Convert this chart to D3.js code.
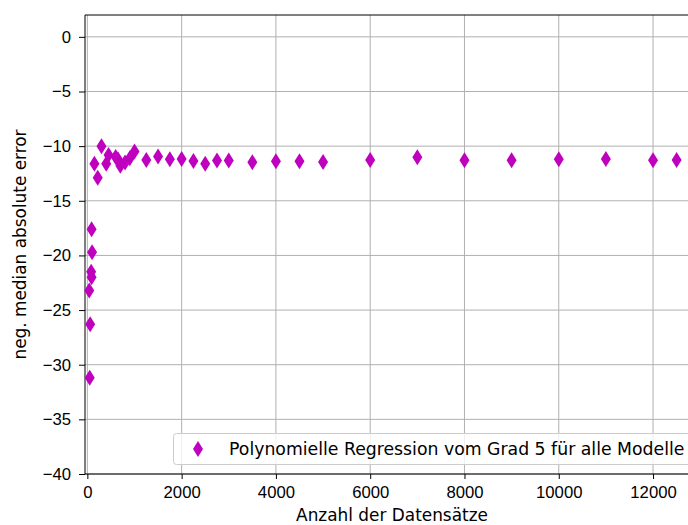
<!DOCTYPE html>
<html>
<head>
<meta charset="utf-8">
<script src="https://cdn.jsdelivr.net/npm/d3@7"></script>
<style>
  body { margin: 0; background: #fff; }
  svg { display: block; font-family: "DejaVu Sans", sans-serif; }
  .tick text { font-size: 16.7px; fill: #000; }
  .tick line { stroke: #000; }
  .domain { display: none; }
</style>
</head>
<body>
<svg width="688" height="525"></svg>
<script>
// number of records per run
var sizes = [50, 60, 40, 90, 80, 100, 90, 150, 220, 300, 400, 450, 600, 650, 700, 800, 900, 1000,
             1250, 1500, 1750, 2000, 2250, 2500, 2750, 3000, 3500, 4000, 4500, 5000,
             6000, 7000, 8000, 9000, 10000, 11000, 12000, 12500];
// negative median absolute error
var errors = [-31.2, -26.3, -23.2, -22.0, -21.5, -19.7, -17.6, -11.6, -12.9, -10.0, -11.6, -10.8, -11.0, -11.2, -11.8, -11.5, -11.1, -10.5,
              -11.26, -10.95, -11.2, -11.17, -11.35, -11.6, -11.32, -11.32, -11.47, -11.38, -11.38, -11.44,
              -11.26, -11.01, -11.29, -11.29, -11.2, -11.17, -11.29, -11.26];
var xTicks = [0, 2000, 4000, 6000, 8000, 10000, 12000];
var yTicks = [0, -5, -10, -15, -20, -25, -30, -35, -40];
var legendLabel = 'Polynomielle Regression vom Grad 5 für alle Modelle';

var svg = d3.select('svg');
var plot = {l: 85, r: 699, t: 15, b: 474};

var x = d3.scaleLinear().domain([-50, 12975]).range([plot.l, plot.r]);
var y = d3.scaleLinear().domain([-40, 2]).range([plot.b, plot.t]);

var color = '#bf00bf';

// grid lines
var grid = svg.append('g');
grid.selectAll('.vgrid').data(xTicks).enter().append('line')
    .attr('x1', function(d) { return x(d); }).attr('x2', function(d) { return x(d); })
    .attr('y1', plot.t).attr('y2', plot.b)
    .attr('stroke', '#b0b0b0').attr('stroke-width', 1);
grid.selectAll('.hgrid').data(yTicks).enter().append('line')
    .attr('x1', plot.l).attr('x2', plot.r)
    .attr('y1', function(d) { return y(d); }).attr('y2', function(d) { return y(d); })
    .attr('stroke', '#b0b0b0').attr('stroke-width', 1);

// axes
svg.append('g')
    .attr('transform', 'translate(0,' + plot.b + ')')
    .call(d3.axisBottom(x).tickValues(xTicks).tickSize(5).tickPadding(7).tickFormat(d3.format('d')));
svg.append('g')
    .attr('transform', 'translate(' + plot.l + ',0)')
    .call(d3.axisLeft(y).tickValues(yTicks).tickSize(6).tickPadding(8).tickFormat(function(d) { return d < 0 ? '\u2212' + (-d) : d; }));

// spines (left, top, bottom)
svg.append('line').attr('x1', plot.l).attr('x2', plot.l).attr('y1', plot.t).attr('y2', plot.b).attr('stroke', '#000');
svg.append('line').attr('x1', plot.l).attr('x2', plot.r).attr('y1', plot.t).attr('y2', plot.t).attr('stroke', '#000');
svg.append('line').attr('x1', plot.l).attr('x2', plot.r).attr('y1', plot.b).attr('y2', plot.b).attr('stroke', '#000');

// thin diamond marker
var diamond = 'M0,-8L5,0L0,8L-5,0Z';
var points = sizes.map(function(s, i) { return {x: s, y: errors[i]}; });
svg.append('g').selectAll('path').data(points).enter().append('path')
    .attr('d', diamond)
    .attr('transform', function(d) { return 'translate(' + x(d.x) + ',' + y(d.y) + ')'; })
    .attr('fill', color);

// legend
var lg = svg.append('g');
lg.append('rect')
    .attr('x', 173.5).attr('y', 433.5).attr('width', 540).attr('height', 31)
    .attr('rx', 3).attr('fill', '#fff').attr('fill-opacity', 0.8)
    .attr('stroke', '#cccccc');
lg.append('path').attr('d', diamond).attr('transform', 'translate(198,449)').attr('fill', color);
lg.append('text').attr('x', 229).attr('y', 455).style('font-size', '17.3px').text(legendLabel);

// axis labels
svg.append('text')
    .attr('x', (plot.l + plot.r) / 2).attr('y', 521)
    .attr('text-anchor', 'middle').style('font-size', '16.9px')
    .text('Anzahl der Datensätze');
svg.append('text')
    .attr('transform', 'translate(26,' + ((plot.t + plot.b) / 2) + ') rotate(-90)')
    .attr('text-anchor', 'middle').style('font-size', '16.9px')
    .text('neg. median absolute error');
</script>
</body>
</html>
